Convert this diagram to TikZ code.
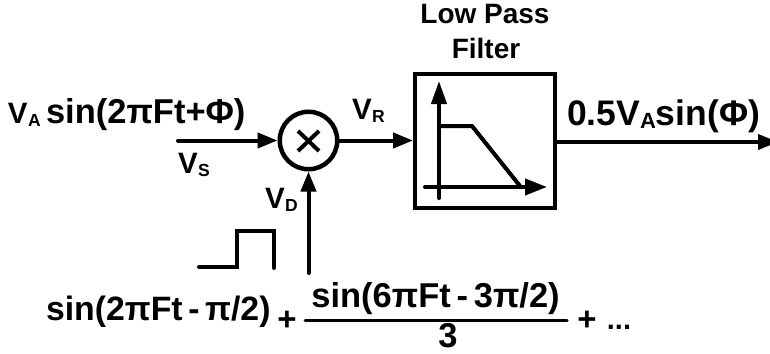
\documentclass[tikz,border=0pt]{standalone}
\usepackage{fontspec}
\setmainfont{Liberation Sans}[BoldFont={Liberation Sans Bold}]
\usetikzlibrary{arrows.meta}
\newcommand{\bigf}{\fontsize{34.5}{36}\selectfont\bfseries}
\newcommand{\lowf}{\fontsize{33.8}{36}\selectfont\bfseries}
\newcommand{\outf}{\fontsize{35.5}{36}\selectfont\bfseries}
\newcommand{\labf}{\fontsize{29.5}{31}\selectfont\bfseries}
\newcommand{\subf}{\fontsize{17.5}{18}\selectfont\bfseries}
\newcommand{\midf}{\fontsize{28}{30}\selectfont\bfseries}
\newcommand{\plusf}{\fontsize{33}{36}\selectfont\bfseries}
\newcommand{\lbl}[2]{{\labf #1\kern0.5pt\raisebox{-3.5pt}{\subf #2}}}
\tikzset{
  wire/.style={line width=4pt,line cap=round,-{Triangle[length=20pt,width=15pt]}},
  plain/.style={line width=4pt,line cap=round,line join=miter},
  txt/.style={inner sep=0pt,outer sep=0pt,anchor=base west},
  ctxt/.style={inner sep=0pt,outer sep=0pt,anchor=base}
}
\begin{document}
\begin{tikzpicture}[x=1pt,y=-1pt]
\useasboundingbox (0,0) rectangle (770,353);
\node[circle,draw,line width=4.5pt,minimum size=57.5pt,inner sep=0pt,outer sep=2.25pt] (mix) at (308.5,140.5) {};
\draw[line width=4pt,line cap=butt] (298,131) -- (319,151) (319,131) -- (298,151);
\node[draw,line width=4pt,minimum width=140pt,minimum height=134pt,inner sep=0pt,outer sep=2pt,anchor=center] (lpf) at (485,140.5) {};
\coordinate (vsin) at (178,140.5);
\coordinate (vdin) at (308.5,273);
\coordinate (vout) at (778,142);
\draw[wire] (vsin) -- (mix.west);
\draw[wire] (vdin) -- (mix.south);
\draw[wire] (mix.east) -- (lpf.west);
\draw[wire] (lpf.east |- vout) -- (vout);
% filter plot
\coordinate (ybot) at (439,198);
\coordinate (ytop) at (439,81);
\coordinate (xleft) at (425,187);
\coordinate (xright) at (547,187);
\draw[plain,-{Triangle[length=23pt,width=15pt]}] (ybot) -- (ytop);
\draw[plain,-{Triangle[length=22pt,width=16pt]}] (xleft) -- (xright);
\draw[plain] (439,126) -- (472,126) -- (520,186);
% pulse
\draw[plain] (199,267) -- (237,267) -- (237,231) -- (274,231) -- (274,268);
% fraction bar
\coordinate (fl) at (305,320);
\coordinate (fr) at (567,320);
\draw[line width=3pt,line cap=round] (fl) -- (fr);
% text
\node[txt] (t1) at (8,123) {\lbl{V}{A}};
\node[txt] (t2) at (46,123) {\bigf sin(2πFt+Φ)};
\node[txt] (vs) at (178,173) {\lbl{V}{S}};
\node[txt] (vr) at (352,119) {\lbl{V}{R}};
\node[txt] (vd) at (265,208) {\lbl{V}{D}};
\node[ctxt] (lp) at (485,24) {\midf Low Pass};
\node[ctxt] (fi) at (486,59) {\midf Filter};
\node[txt] (o) at (567,125) {\outf 0.5V\raisebox{-3.5pt}{\fontsize{22}{22}\selectfont A}sin(Φ)};
\node[txt] (s1) at (46,320) {\lowf sin(2πFt\,-\,π/2)};
\node[ctxt] (p1) at (287,330) {\plusf +};
\node[ctxt] (s2) at (435.5,307) {\bigf sin(6πFt\,-\,3π/2)};
\node[ctxt] (three) at (448,347) {\bigf 3};
\node[ctxt] (p2) at (587,330) {\plusf +};
\node[ctxt] (dots) at (619,329) {\fontsize{29}{30}\selectfont\bfseries ...};
\end{tikzpicture}
\end{document}
